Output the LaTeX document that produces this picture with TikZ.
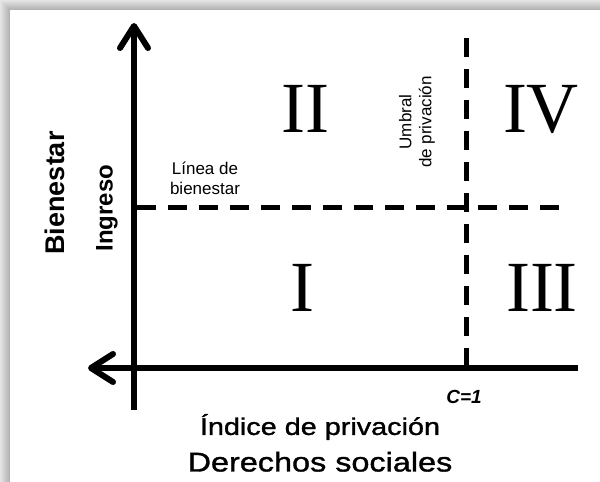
\documentclass[tikz,border=0pt]{standalone}
\usepackage{fontspec}
\setmainfont{Liberation Serif}
\setsansfont{Liberation Sans}
\newfontfamily\widesans[FakeStretch=1.2,FakeBold=1.3]{Liberation Sans}
\usetikzlibrary{positioning,arrows.meta}

\begin{document}
\begin{tikzpicture}[x=1pt,y=-1pt,nodes={inner sep=0pt,outer sep=0pt},
    axis/.style={line width=6pt,-{Straight Barb[length=22pt,width=28pt,round]}},
    threshold/.style={line width=5pt,dash pattern=on 19pt off 12pt},
    quadrant/.style={font=\fontsize{72}{72}\selectfont},
    smalllabel/.style={font=\sffamily\fontsize{17}{20}\selectfont,align=center}]
      % frame and its shadow
      \foreach \i [evaluate=\i as \g using 10+2.2*\i] in {0,...,9}
        \fill[black!\g] (\i,\i) rectangle (600,482);
      \fill[white] (10,10) rectangle (600,482);
      \useasboundingbox (0,0) rectangle (600,482);

      \coordinate (ytop)         at (134,23);
      \coordinate (ybottom)      at (134,410);
      \coordinate (xleft)        at (88,368);
      \coordinate (xright)       at (578,368);
      \coordinate (welfareleft)  at (137,207);
      \coordinate (welfareright) at (563,207);
      \coordinate (umbraltop)    at (466,38);
      \coordinate (umbralbottom) at (466,368);

      \draw[threshold] (welfareleft) -- (welfareright);
      \draw[threshold] (umbraltop) -- (umbralbottom);
      \draw[axis] (ybottom) -- (ytop);
      \draw[axis] (xright) -- (xleft);

      \node (quadrantii)  at (305,109) [quadrant] {II};
      \node (quadrantiv)  at (541,109) [quadrant] {IV};
      \node (quadranti)   at (302,288) [quadrant] {I};
      \node (quadrantiii) at (542,288) [quadrant] {III};

      \node (umbral) at (417,122) [smalllabel,rotate=90] {Umbral\\de privación};
      \node (linea)  at (205,178) [smalllabel] {Línea de\\bienestar};

      \node (bienestar) at (55,193)  [font=\sffamily\bfseries\fontsize{27}{32}\selectfont,rotate=90] {Bienestar};
      \node (ingreso)   at (107,208) [font=\sffamily\bfseries\fontsize{24}{28}\selectfont,rotate=90] {Ingreso};
      \node (cone)      at (464,397) [font=\sffamily\bfseries\itshape\fontsize{19}{22}\selectfont] {C=1};
      \node (indice)    at (320,427) [font=\widesans\fontsize{24}{28}\selectfont] {Índice de privación};
      \node (derechos)  [below=12pt of indice,font=\widesans\fontsize{27}{32}\selectfont] {Derechos sociales};
    \end{tikzpicture}
\end{document}
